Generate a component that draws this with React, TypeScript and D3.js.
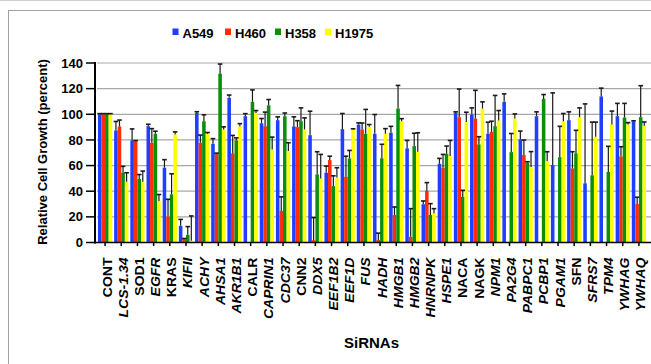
import React from "react";
import * as d3 from "d3";

const categories = ["CONT","LCS-1.34","SOD1","EGFR","KRAS","KIFII","ACHY","AHSA1","AKR1B1","CALR","CAPRIN1","CDC37","CNN2","DDX5","EEF1B2","EEF1D","FUS","HADH","HMGB1","HMGB2","HNRNPK","HSPE1","NACA","NAGK","NPM1","PA2G4","PABPC1","PCBP1","PGAM1","SFN","SFRS7","TPM4","YWHAG","YWHAQ"];
const italicLabels = [false,true,false,true,false,true,true,true,true,false,true,true,false,true,true,true,true,true,true,true,true,true,false,false,true,true,true,true,true,false,true,true,true,true];

const seriesNames = ["A549","H460","H358","H1975"];
const seriesColors = ["#1f3fff","#ff2d0a","#0a8f0a","#ffff00"];

const a549 = [100,87.4,79.6,90.7,58.3,13,101,77,112.8,98.5,93,95.4,90.5,83.7,54.4,88.4,92,84.8,85.6,73.4,29.8,61.4,101.1,99.8,84.8,109.7,80.4,98.5,60.4,95.4,46.1,113.9,98.5,94.4];
const a549Err = [0.5,7,9,1.5,6.3,5,1,4,2.2,2,3.7,2.6,7.5,18.7,5.2,12.2,1.3,15,5,6.2,2.6,4.2,0.8,5.2,9,6.2,6.5,3.4,56.3,6.5,62,6.5,10,0.5];
const h460 = [100,90.5,79,77.8,20.2,2.6,77.8,69.2,69.5,null,90.7,24.6,90,1.8,64.3,51.3,88.2,2,21.5,4.4,40.2,58.3,97.7,96.7,86.3,null,68.2,null,null,57.8,null,null,67.2,30];
const h460Err = [0.5,5,0.5,11,13.5,0.5,6,0.5,14,0,11,11,5,17.6,3,16,5,5.3,6.2,22,6.5,10.4,22,22,8.3,0,11.7,0,0,13,0,0,7.5,5.3];
const h358 = [100,54.4,49.5,84.8,37.6,6,94.6,131.7,79.6,109.7,107,98.5,94.6,53.1,44,65.6,84.8,65.6,104.5,75.2,21.5,69.2,35.5,76.5,90.7,70.5,62.2,112,66.6,69.5,52.4,55,97.5,97.8];
const h358Err = [0.5,5,3.5,2,16,6.4,5,7.5,2,9.3,4.5,2.5,10.4,17.7,8,6.2,19,11,18,10,8.8,6,5.2,6,24,14.5,0.8,3.4,24,18,41.5,20,11,24.5];
const h1975 = [100,47.4,47.4,32.4,84.3,1.3,84.8,88.2,90.7,101.1,72.6,71.3,88.2,50,50.6,88.2,90.2,84.8,94.6,70.8,22.8,67.4,93.9,104.5,95.2,96.7,58.9,63.5,94.6,97.7,82.4,92,92,91];
const h1975Err = [0.5,7,8.3,5,2,19.4,1,2,2,1.8,9.6,6.5,9,18.7,7.7,0.5,1.8,4,2,14.8,3.6,12.2,7.7,5.2,7.7,3.6,12,7.3,6,7.3,11.5,10.5,1.5,3];

const yTicks = [0,20,40,60,80,100,120,140];

const seriesValues = [a549, h460, h358, h1975];
const seriesErrors = [a549Err, h460Err, h358Err, h1975Err];

const FONT = "'Liberation Sans', Arial, sans-serif";

export default function App() {
  const left = 97, right = 647, top = 63, bottom = 242.5;
  const x = d3.scaleBand<string>().domain(categories).range([left, right]).paddingInner(0.12).paddingOuter(0.06);
  const xs = d3.scaleBand<string>().domain(seriesNames).range([0, x.bandwidth()]).padding(0);
  const y = d3.scaleLinear().domain([0, 140]).range([bottom, top]);

  const legendX = [172.5, 225, 275, 325];

  return (
    <svg width={651} height={364} style={{ position: "fixed", left: 0, top: 0 }} fontFamily={FONT}>
      <rect x={0} y={0} width={651} height={364} fill="#fff" />
      <line x1={0} x2={651} y1={0.5} y2={0.5} stroke="#d0d0d0" />
      <rect x={8.5} y={10.5} width={700} height={400} fill="none" stroke="#a0a0a0" strokeWidth={1} />

      {/* gridlines */}
      {yTicks.filter(t => t > 0).map(t => (
        <line key={t} x1={left} x2={651} y1={y(t)} y2={y(t)} stroke="#a8a8a8" strokeWidth={1.2} />
      ))}

      {/* bars */}
      {seriesNames.map((s, si) => (
        <g key={s}>
          {categories.map((c, ci) => {
            const v = seriesValues[si][ci];
            if (v == null) return null;
            const bx = (x(c) ?? 0) + (xs(s) ?? 0);
            return <rect key={c} x={bx} y={y(v)} width={xs.bandwidth()} height={y(0) - y(v)} fill={seriesColors[si]} />;
          })}
        </g>
      ))}

      {/* error bars */}
      {seriesNames.map((s, si) => (
        <g key={s + "e"} stroke="#1a1a1a">
          {categories.map((c, ci) => {
            const v = seriesValues[si][ci];
            if (v == null) return null;
            const e = seriesErrors[si][ci];
            const cx = (x(c) ?? 0) + (xs(s) ?? 0) + xs.bandwidth() / 2;
            return (
              <g key={c}>
                <line x1={cx} x2={cx} y1={y(v)} y2={y(v + e)} strokeWidth={1.2} />
                <line x1={cx - 2.3} x2={cx + 2.3} y1={y(v + e)} y2={y(v + e)} strokeWidth={1.6} />
              </g>
            );
          })}
        </g>
      ))}

      {/* axes */}
      <line x1={95} x2={95} y1={top - 1} y2={bottom + 1} stroke="#000" strokeWidth={2} />
      <line x1={94} x2={651} y1={bottom} y2={bottom} stroke="#000" strokeWidth={1.6} />
      {yTicks.map(t => (
        <g key={"yt" + t}>
          <line x1={86} x2={95} y1={y(t)} y2={y(t)} stroke="#000" strokeWidth={1.5} />
          <text x={83} y={y(t) + 4.6} textAnchor="end" fontSize={13} fontWeight="bold">{t}</text>
        </g>
      ))}
      {categories.map((c, i) => {
        const cx = (x(c) ?? 0) + x.bandwidth() / 2;
        return (
          <g key={"xt" + c}>
            <line x1={cx} x2={cx} y1={bottom} y2={bottom + 3.5} stroke="#000" strokeWidth={1.5} />
            <text transform={`translate(${cx + 6.5},${257.5}) rotate(-90) scale(1.08,1)`} textAnchor="end" fontSize={13} fontWeight="bold" fontStyle={italicLabels[i] ? "italic" : "normal"}>{c}</text>
          </g>
        );
      })}

      {/* axis titles */}
      <text transform={`translate(${47},${152}) rotate(-90)`} textAnchor="middle" fontSize={13} fontWeight="bold">Relative Cell Growth (percent)</text>
      <text x={371.5} y={348} textAnchor="middle" fontSize={15} fontWeight="bold">SiRNAs</text>

      {/* legend */}
      {seriesNames.map((s, i) => (
        <g key={"lg" + s}>
          <rect x={legendX[i]} y={28.5} width={6} height={6.5} fill={seriesColors[i]} />
          <text x={legendX[i] + 10} y={38.3} fontSize={13} fontWeight="bold">{s}</text>
        </g>
      ))}
    </svg>
  );
}
